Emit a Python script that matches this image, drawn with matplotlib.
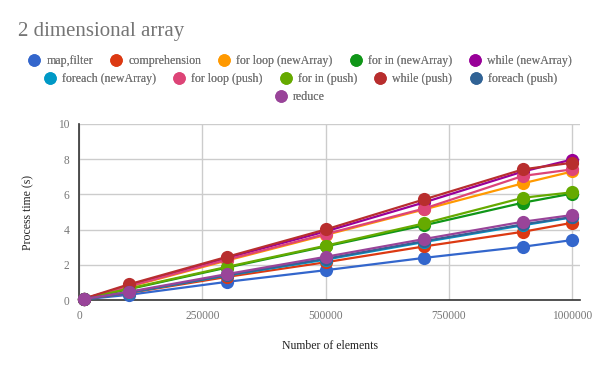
import matplotlib
matplotlib.use("Agg")
import matplotlib.pyplot as plt
from matplotlib.lines import Line2D

x_values = [10000, 100000, 300000, 500000, 700000, 900000, 1000000]
series_names = ["map,filter", "comprehension", "for loop (newArray)", "for in (newArray)",
                "while (newArray)", "foreach (newArray)", "for loop (push)", "for in (push)",
                "while (push)", "foreach (push)", "reduce"]
map_filter = [0.05, 0.30, 1.04, 1.70, 2.40, 3.03, 3.41]
comprehension = [0.06, 0.40, 1.32, 2.15, 3.05, 3.88, 4.39]
for_loop_new = [0.08, 0.75, 2.25, 3.70, 5.15, 6.63, 7.30]
for_in_new = [0.07, 0.62, 1.85, 3.05, 4.25, 5.53, 6.05]
while_new = [0.08, 0.82, 2.40, 3.90, 5.55, 7.30, 7.98]
foreach_new = [0.06, 0.42, 1.40, 2.30, 3.30, 4.25, 4.70]
for_loop_push = [0.08, 0.78, 2.30, 3.75, 5.20, 7.05, 7.42]
for_in_push = [0.07, 0.65, 1.89, 3.09, 4.36, 5.81, 6.12]
while_push = [0.09, 0.89, 2.46, 4.01, 5.72, 7.42, 7.80]
foreach_push = [0.06, 0.44, 1.42, 2.35, 3.35, 4.30, 4.72]
reduce_vals = [0.06, 0.47, 1.48, 2.46, 3.47, 4.45, 4.83]
all_series = [map_filter, comprehension, for_loop_new, for_in_new, while_new, foreach_new,
              for_loop_push, for_in_push, while_push, foreach_push, reduce_vals]
colors = ["#3366cc", "#dc3912", "#ff9900", "#109618", "#990099", "#0099c6",
          "#dd4477", "#66aa00", "#b82e2e", "#316395", "#994499"]
x_ticks = [0, 250000, 500000, 750000, 1000000]
y_ticks = [0, 2, 4, 6, 8, 10]

plt.rcParams['font.family'] = ['Liberation Serif', 'DejaVu Serif']

fig = plt.figure(figsize=(6, 3.71), dpi=100)
ax = fig.add_axes([0.132, 0.191, 0.835, 0.475])

handles = []
for name, vals, c in zip(series_names, all_series, colors):
    ax.plot(x_values, vals, color=c, lw=1.6, marker='o', markersize=9.5,
            markeredgewidth=0, clip_on=False, zorder=3)
    handles.append(Line2D([], [], ls='none', marker='o', markersize=9,
                          markeredgewidth=0, color=c, label=name))

ax.set_xlim(0, 1016000)
ax.set_ylim(0, 10)
ax.set_xticks(x_ticks)
ax.set_xticklabels([str(t) for t in x_ticks])
ax.set_yticks(y_ticks)
ax.grid(True, color="#cccccc", lw=1)
ax.set_axisbelow(True)
for s in ["top", "right"]:
    ax.spines[s].set_visible(False)
for s in ["left", "bottom"]:
    ax.spines[s].set_color("#333333")
    ax.spines[s].set_linewidth(1.2)
ax.tick_params(length=0, labelsize=8.3, colors="#777777", pad=7)
ax.tick_params(axis='x', pad=7)
ax.set_xlabel("Number of elements", fontsize=8.5, color="#222222", labelpad=13)
ax.set_ylabel("Process time (s)", fontsize=8.5, color="#222222", labelpad=17)

fig.text(0.03, 0.915, "2 dimensional array", fontsize=15, color="#757575", va='center')

rows = [(handles[0:5], 0.835), (handles[5:10], 0.786), (handles[10:11], 0.739)]
for hs, yy in rows:
    leg = fig.legend(handles=hs, loc='center', bbox_to_anchor=(0.5, yy), ncol=len(hs),
                     frameon=False, fontsize=8.6, handletextpad=0.45, columnspacing=1.4,
                     handlelength=1.1, borderpad=0, labelcolor="#757575")
    fig.add_artist(leg)

fig.savefig("out.png", dpi=100)
